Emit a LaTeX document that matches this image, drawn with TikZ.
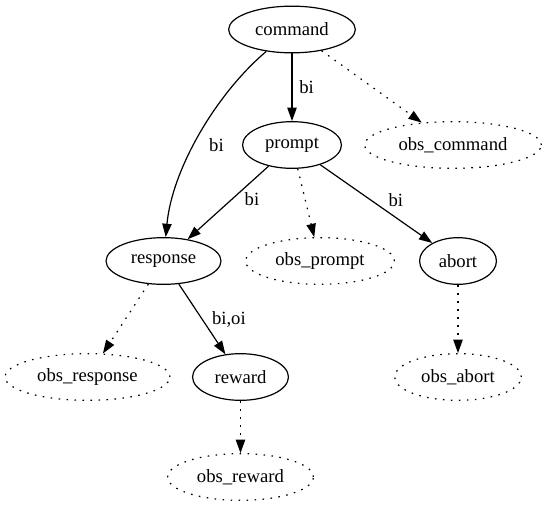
\documentclass[tikz,border=0pt]{standalone}
\usepackage{fontspec}
\setmainfont{Liberation Serif}
\usetikzlibrary{arrows.meta, shapes.geometric}

\begin{document}
\begin{tikzpicture}[x=0.75pt, y=-0.75pt, line width=0.9pt,
  every node/.style={ellipse, draw=black, fill=white, inner xsep=6pt, inner ysep=0pt,
    minimum height=35pt, font=\fontsize{14}{16}\selectfont},
  >={Triangle[length=10pt, width=7pt]}
]
\useasboundingbox (0,0) rectangle (546,504);

% Dotted and label styles
\tikzset{
  obsline/.style={dash pattern=on 1.2pt off 4.8pt},
  elabel/.style={
    rectangle, draw=none, fill=none, minimum height=0pt,
    inner sep=1pt
  }
}

% Node coordinates WITH LABELS
\node (cmd) at (292, 29.5) {command};

\node (prm) at (292, 145) {prompt};
\node[obsline] (ocmd) at (453, 145) {obs\_command};

\node (rsp) at (163.5, 261) {response};
\node[obsline] (oprm) at (320, 261) {obs\_prompt};
\node (abt) at (458, 261) {abort};

\node[obsline] (orsp) at (87.5, 377) {obs\_response};
\node (rwd) at (240.5, 377) {reward};
\node[obsline] (oabt) at (458, 377) {obs\_abort};

\node[obsline] (orwd) at (240.5, 477) {obs\_reward};

% ---- Edges ----
\draw[->] (cmd) -- node[elabel, right=4pt]{bi} (prm);
\draw[->, obsline] (cmd) -- (ocmd);
\draw[->] (cmd) .. controls (215,95) and (172,170) .. (rsp)
  node[elabel, pos=0.55, right=10pt]{bi};

\draw[->] (prm) -- node[elabel, pos=0.45, right=8pt]{bi} (rsp);
\draw[->, obsline] (prm) -- (oprm);
\draw[->] (prm) -- node[elabel, pos=0.45, right=12pt]{bi} (abt);

\draw[->, obsline] (rsp) -- (orsp);
\draw[->] (rsp) -- node[elabel, right=6pt]{bi,oi} (rwd);
\draw[->, obsline] (abt) -- (oabt);
\draw[->, obsline] (rwd) -- (orwd);

\end{tikzpicture}
\end{document}
